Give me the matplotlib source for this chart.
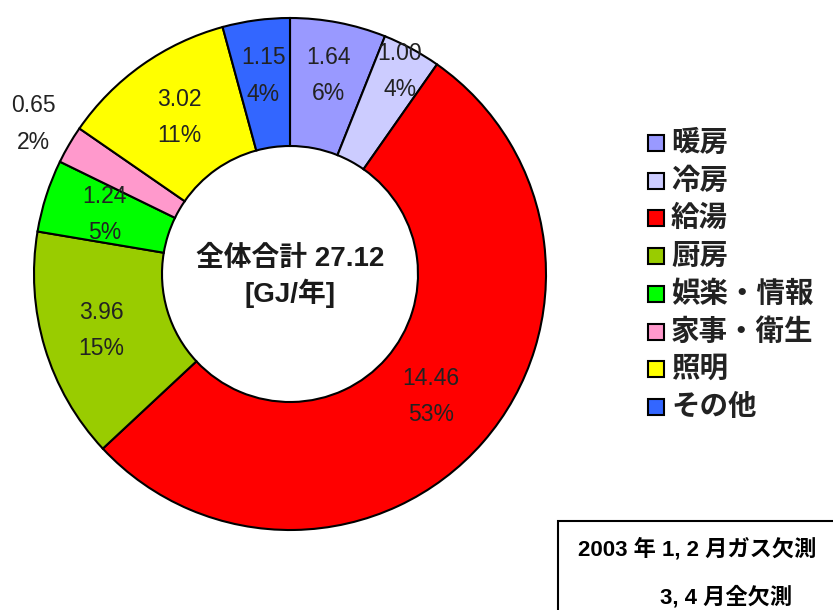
import matplotlib.pyplot as plt
import numpy as np

plt.rcParams['font.family'] = ['Liberation Sans', 'Noto Sans CJK JP', 'DejaVu Sans']

# データ
labels = ["暖房", "冷房", "給湯", "厨房", "娯楽・情報", "家事・衛生", "照明", "その他"]
values = [1.64, 1.00, 14.46, 3.96, 1.24, 0.65, 3.02, 1.15]
colors = ["#9999FF", "#CCCCFF", "#FF0000", "#99CC00", "#00FF00", "#FF99CC", "#FFFF00", "#3366FF"]
total_text = "全体合計 27.12\n[GJ/年]"
note_lines = ["2003 年 1, 2 月ガス欠測", "3, 4 月全欠測"]

# ラベルの中心からの距離（半径比）
label_dist = [0.79, 0.90, 0.73, 0.77, 0.76, 1.16, 0.75, 0.78]

W, H = 833, 610
fig = plt.figure(figsize=(W / 100, H / 100), dpi=100)
ax = fig.add_axes([0, 0, 1, 1])

cx, cy, R = 290, H - 274, 256
wedges, _ = ax.pie(values, colors=colors, startangle=90, counterclock=False,
                   center=(cx, cy), radius=R, frame=True,
                   wedgeprops=dict(width=R * 0.5, edgecolor='black', linewidth=1.5))
ax.set_xlim(0, W)
ax.set_ylim(0, H)
ax.set_aspect('equal')
ax.axis('off')

tot = sum(values)
for w, v, d in zip(wedges, values, label_dist):
    a = np.deg2rad((w.theta1 + w.theta2) / 2)
    x = cx + d * R * np.cos(a)
    y = cy + d * R * np.sin(a)
    ax.text(x, y, "%.2f\n%d%%" % (v, round(v / tot * 100)), ha='center', va='center',
            fontsize=16.5, color='#222222', linespacing=1.75)

ax.text(cx, cy - 3, total_text, ha='center', va='center', fontsize=20,
        fontweight='bold', linespacing=1.3, color='#1a1a1a')

# 凡例
for i, (lab, c) in enumerate(zip(labels, colors)):
    y = H - 143 - i * 37.7
    ax.add_patch(plt.Rectangle((648, y - 8), 16, 16, facecolor=c, edgecolor='black', lw=1.5))
    ax.text(671, y, lab, ha='left', va='center', fontsize=20.5, fontweight='bold',
            family=['Noto Sans CJK JP'], color='#222222')

# 注記
ax.add_patch(plt.Rectangle((558, -10), 300, H - 521 + 10, facecolor='white',
                           edgecolor='black', lw=1.5, clip_on=False))
ax.text(578, H - 549, note_lines[0], ha='left', va='center', fontsize=16, fontweight='bold',
        family=['Liberation Sans', 'Noto Sans CJK JP'])
ax.text(660, H - 597, note_lines[1], ha='left', va='center', fontsize=16, fontweight='bold',
        family=['Liberation Sans', 'Noto Sans CJK JP'])

plt.savefig("out.png", dpi=100)
